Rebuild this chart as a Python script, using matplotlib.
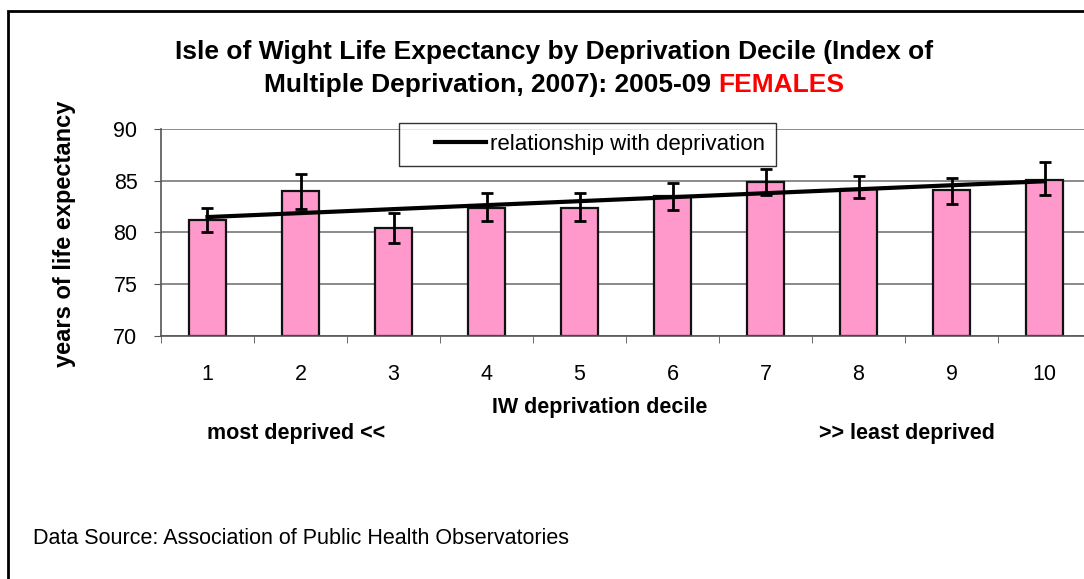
import numpy as np
import matplotlib.pyplot as plt
from matplotlib.patches import Rectangle

plt.rcParams['font.family'] = ['Liberation Sans', 'DejaVu Sans']

deciles = [1, 2, 3, 4, 5, 6, 7, 8, 9, 10]
life_exp = [81.2, 84.0, 80.4, 82.4, 82.4, 83.5, 84.9, 84.2, 84.1, 85.1]
ci_low = [80.0, 82.3, 79.0, 81.1, 81.1, 82.2, 83.6, 83.3, 82.8, 83.6]
ci_high = [82.4, 85.7, 81.9, 83.8, 83.8, 84.8, 86.1, 85.5, 85.3, 86.8]

W, H = 1084, 579
x = np.array(deciles)
y = np.array(life_exp)
yerr = [y - np.array(ci_low), np.array(ci_high) - y]

fig = plt.figure(figsize=(W / 100, H / 100), dpi=100)
# the original chart is cropped on the right, so the plot area runs past the edge
ax = fig.add_axes([161 / W, 1 - 336 / H, 930 / W, 207 / H])

ax.bar(x, y - 70, bottom=70, width=0.4, color='#FF99CC', edgecolor='#111111',
       linewidth=1.6, zorder=2)
ax.errorbar(x, y, yerr=yerr, fmt='none', ecolor='black', elinewidth=2,
            capsize=4.5, capthick=2, zorder=3)

# linear trend across deciles
slope, icpt = np.polyfit(x, y, 1)
ax.plot([x[0], x[-1]], [icpt + slope * x[0], icpt + slope * x[-1]],
        color='black', linewidth=3, zorder=4, label='relationship with deprivation')

ax.set_xlim(0.5, 10.5)
ax.set_ylim(70, 90)
ax.set_yticks([70, 75, 80, 85, 90])
ax.set_xticks(x)
ax.set_xticks(np.arange(0.5, 11, 1), minor=True)
ax.tick_params(axis='x', which='major', length=0, pad=20, labelsize=15.5)
ax.tick_params(axis='x', which='minor', length=5, direction='out', color='#555555')
ax.tick_params(axis='y', length=5, direction='out', pad=12, labelsize=15.5, color='#555555')
ax.yaxis.grid(True, color='#777777', linewidth=1.2, zorder=0)
for s in ['top', 'right']:
    ax.spines[s].set_visible(False)
for s in ['left', 'bottom']:
    ax.spines[s].set_color('#555555')
    ax.spines[s].set_linewidth(1.2)

leg = ax.legend(loc='upper left', bbox_to_anchor=(399 / W, 1 - 123 / H),
                bbox_transform=fig.transFigure, frameon=True, fancybox=False,
                edgecolor='black', fontsize=16, handlelength=3.4, borderpad=0.5,
                borderaxespad=0, handletextpad=0.2)
leg.get_frame().set_linewidth(1)
# the legend sample line sits in the right part of its slot, with a gap on the left
hl = leg.legend_handles[0]
xd = np.asarray(hl.get_xdata(), dtype=float)
yd = np.asarray(hl.get_ydata(), dtype=float)
x_start = xd.min() + (xd.max() - xd.min()) * 0.33
hl.set_data([x_start, xd.max()], [yd[0], yd[0]])

fig.text(554 / W, 1 - 52 / H, 'Isle of Wight Life Expectancy by Deprivation Decile (Index of',
         ha='center', va='center', fontsize=19, fontweight='bold')
t1 = fig.text(0, 0, 'Multiple Deprivation, 2007): 2005-09 ', fontsize=19, fontweight='bold')
t2 = fig.text(0, 0, 'FEMALES', fontsize=19, fontweight='bold', color='#FF0000')
fig.canvas.draw()
r = fig.canvas.get_renderer()
w1 = t1.get_window_extent(r).width
w2 = t2.get_window_extent(r).width
x0 = 554 - (w1 + w2) / 2
t1.set_position((x0 / W, 1 - 85 / H))
t1.set_va('center')
t2.set_position(((x0 + w1) / W, 1 - 85 / H))
t2.set_va('center')

fig.text(65 / W, 1 - 234 / H, 'years of life expectancy', rotation=90,
         ha='center', va='center', fontsize=17, fontweight='bold')
fig.text(600 / W, 1 - 407 / H, 'IW deprivation decile', ha='center', va='center',
         fontsize=15.5, fontweight='bold')
fig.text(207 / W, 1 - 433 / H, 'most deprived <<', ha='left', va='center',
         fontsize=15.5, fontweight='bold')
fig.text(995 / W, 1 - 433 / H, '>> least deprived', ha='right', va='center',
         fontsize=15.5, fontweight='bold')
fig.text(33 / W, 1 - 538 / H, 'Data Source: Association of Public Health Observatories',
         ha='left', va='center', fontsize=15.5)

# outer chart border (right and bottom edges fall outside the crop)
fig.patches.append(Rectangle((8 / W, -0.05), 1.2, 1 - 10.5 / H + 0.05,
                             transform=fig.transFigure, fill=False,
                             edgecolor='black', linewidth=2))

fig.savefig('out.png', dpi=100)
